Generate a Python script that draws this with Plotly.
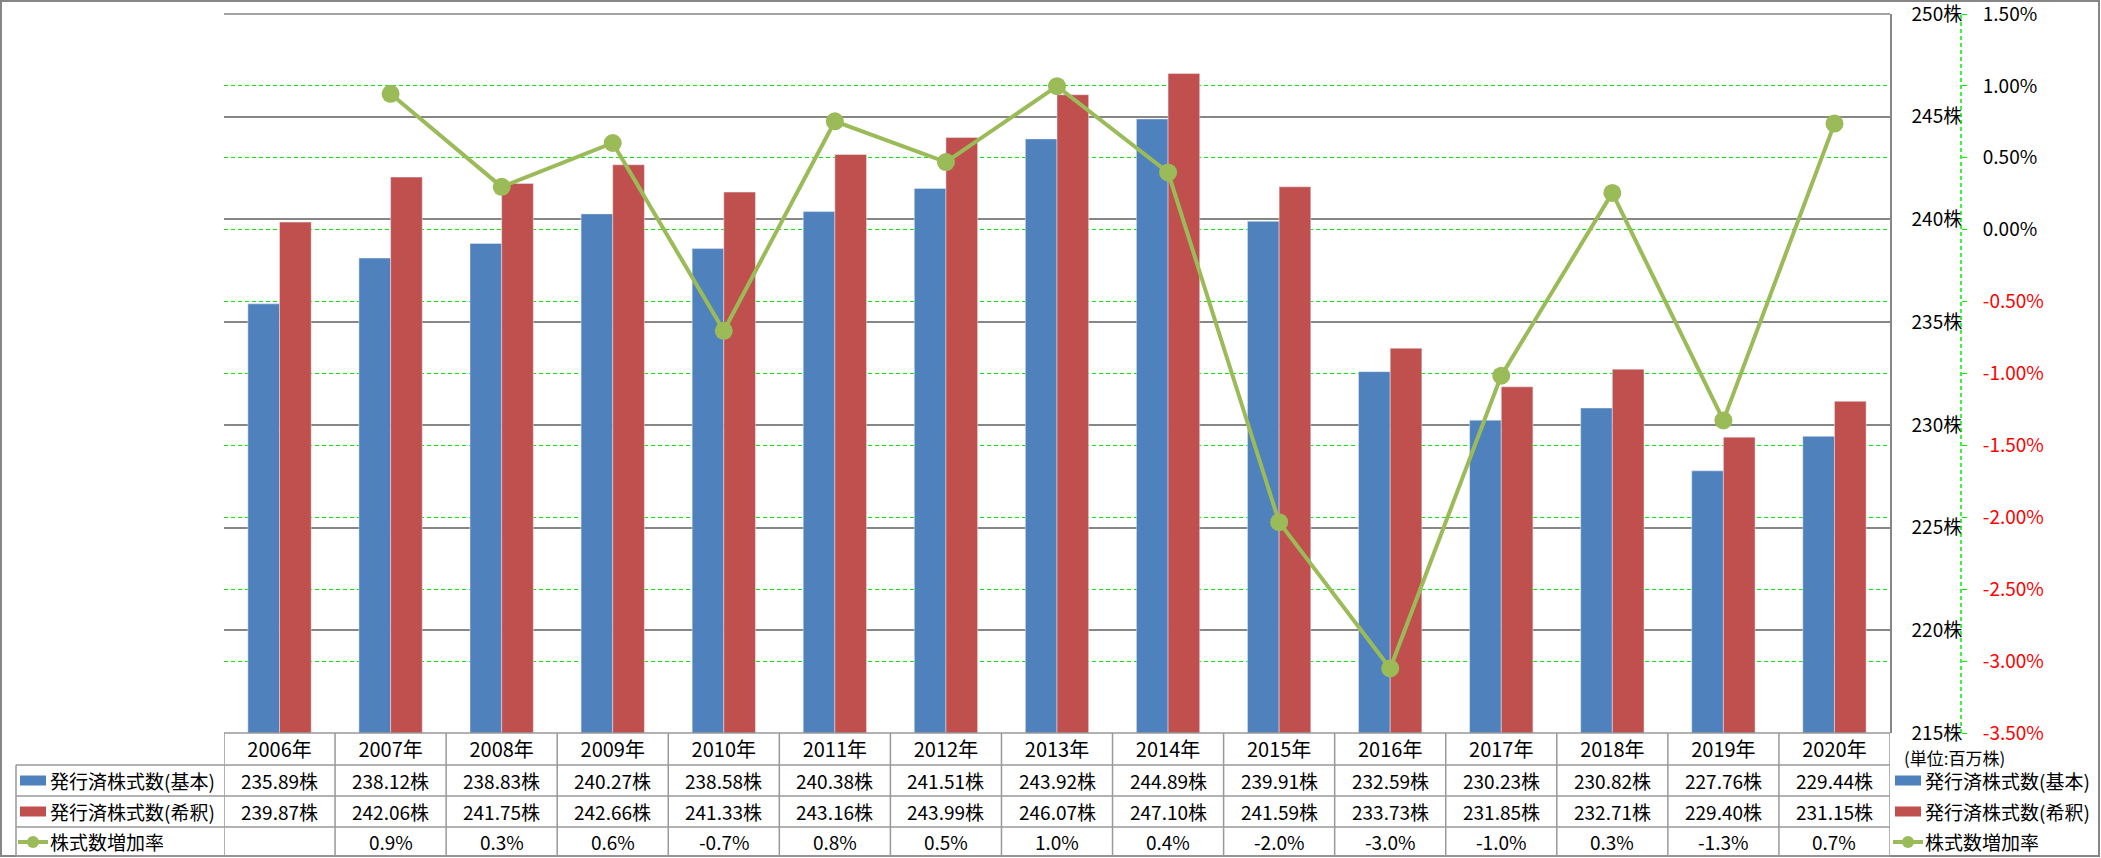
import plotly.graph_objects as go

# --- data ---
years = ["2006年", "2007年", "2008年", "2009年", "2010年", "2011年", "2012年", "2013年",
         "2014年", "2015年", "2016年", "2017年", "2018年", "2019年", "2020年"]
shares_basic = [235.89, 238.12, 238.83, 240.27, 238.58, 240.38, 241.51, 243.92,
                244.89, 239.91, 232.59, 230.23, 230.82, 227.76, 229.44]
shares_diluted = [239.87, 242.06, 241.75, 242.66, 241.33, 243.16, 243.99, 246.07,
                  247.10, 241.59, 233.73, 231.85, 232.71, 229.40, 231.15]
# growth rate (%) as plotted
growth_rate = [None, 0.945, 0.298, 0.603, -0.703, 0.754, 0.470, 0.998,
               0.398, -2.034, -3.051, -1.015, 0.256, -1.326, 0.738]
# growth rate as printed in the data table
growth_label = ["", "0.9%", "0.3%", "0.6%", "-0.7%", "0.8%", "0.5%", "1.0%",
                "0.4%", "-2.0%", "-3.0%", "-1.0%", "0.3%", "-1.3%", "0.7%"]
share_ticks = [215, 220, 225, 230, 235, 240, 245, 250]
pct_ticks = [1.5, 1.0, 0.5, 0.0, -0.5, -1.0, -1.5, -2.0, -2.5, -3.0, -3.5]

names = ["発行済株式数(基本)", "発行済株式数(希釈)", "株式数増加率"]
BLUE, RED, GREEN = "#4F81BD", "#C0504D", "#9BBB59"
GRID = "#868686"
LIME = "#00EE00"
FONT = "Noto Sans CJK JP"

W, H = 2101, 858
L, R, T, B = 224, 140, 14, 125
PW, PH = W - L - R, H - T - B


def px_x(px):
    return (px - L) / PW


def px_y(py):
    return (H - B - py) / PH


fig = go.Figure()
fig.add_trace(go.Bar(x=years, y=shares_basic, name=names[0], marker_color=BLUE))
fig.add_trace(go.Bar(x=years, y=shares_diluted, name=names[1], marker_color=RED))
fig.add_trace(go.Scatter(
    x=years, y=growth_rate, name=names[2], yaxis="y2", mode="lines+markers",
    line=dict(color=GREEN, width=4), marker=dict(color=GREEN, size=18),
    connectgaps=False,
))

pct_text = [
    f"<span style='color:#FF0000'>{v:.2f}%</span>" if v < 0 else f"{v:.2f}%"
    for v in pct_ticks
]

fig.update_layout(
    width=W, height=H,
    margin=dict(l=L, r=R, t=T, b=B, autoexpand=False),
    paper_bgcolor="white", plot_bgcolor="white",
    font=dict(family=FONT, size=19, color="black"),
    barmode="group", bargap=0.43, bargroupgap=0,
    xaxis=dict(domain=[0, 1666 / PW], type="category", range=[-0.5, len(years) - 0.5],
               showgrid=False, showline=False, ticks="", tickfont=dict(size=20),
               ticklabelstandoff=3),
    yaxis=dict(range=[215, 250], tickvals=share_ticks,
               ticktext=[f"{v}株" for v in share_ticks], side="right",
               anchor="x", showline=True, linecolor=GRID, linewidth=1.5,
               gridcolor=GRID, gridwidth=1.5, zeroline=False, ticks="",
               ticklabelstandoff=16, ticklabeloverflow="allow"),
    yaxis2=dict(range=[-3.5, 1.5], overlaying="y", side="right", anchor="free",
                position=1.0, tickvals=pct_ticks, ticktext=pct_text,
                showgrid=True, gridcolor=LIME, griddash="4px,3px",
                gridwidth=1, zeroline=False, showline=False,
                ticks="outside", ticklen=5, tickcolor=LIME,
                ticklabelstandoff=12, ticklabeloverflow="allow"),
    showlegend=False,
)

shapes = []
# top gridline of the primary axis (250)
shapes.append(dict(type="line", xref="x domain", yref="paper", x0=0, x1=1, y0=1, y1=1,
                   line=dict(color=GRID, width=1.5)))
# secondary axis line (dashed green)
shapes.append(dict(type="line", xref="paper", yref="paper", x0=1, x1=1, y0=0, y1=1,
                   line=dict(color=LIME, width=1.5, dash="4px,3px")))
# outer frame
shapes.append(dict(type="rect", xref="paper", yref="paper",
                   x0=px_x(1), x1=px_x(2099), y0=px_y(856), y1=px_y(1),
                   line=dict(color=GRID, width=2), fillcolor="rgba(0,0,0,0)"))

# data table grid
row_edges = [733, 765, 796, 827, 856]
tcol = dict(color="#999999", width=1.5)
for k, ry in enumerate(row_edges):
    x_left = px_x(224) if k == 0 else px_x(16)
    shapes.append(dict(type="line", xref="paper", yref="paper",
                       x0=x_left, x1=1666 / PW, y0=px_y(ry), y1=px_y(ry), line=tcol))
shapes.append(dict(type="line", xref="paper", yref="paper", x0=px_x(16), x1=px_x(16),
                   y0=px_y(765), y1=px_y(856), line=tcol))
for i in range(len(years) + 1):
    shapes.append(dict(type="line", xref="x", yref="paper", x0=i - 0.5, x1=i - 0.5,
                       y0=px_y(733), y1=px_y(856), line=tcol))


def legend_key(r, x0, cy):
    # colour key as Excel draws it: wide box for bars, line + dot for the line series
    if r < 2:
        shapes.append(dict(type="rect", xref="paper", yref="paper",
                           x0=px_x(x0 + 2), x1=px_x(x0 + 28), y0=cy - 5 / PH, y1=cy + 5 / PH,
                           fillcolor=[BLUE, RED][r], line=dict(width=0)))
    else:
        shapes.append(dict(type="line", xref="paper", yref="paper",
                           x0=px_x(x0), x1=px_x(x0 + 30), y0=cy, y1=cy,
                           line=dict(color=GREEN, width=4)))
        shapes.append(dict(type="circle", xref="paper", yref="paper",
                           x0=px_x(x0 + 9), x1=px_x(x0 + 21), y0=cy - 6 / PH, y1=cy + 6 / PH,
                           fillcolor=GREEN, line=dict(width=0)))


annotations = []
row_centers = [780.5, 811.5, 842]
rows = [
    [f"{v:.2f}株" for v in shares_basic],
    [f"{v:.2f}株" for v in shares_diluted],
    growth_label,
]
for r, texts in enumerate(rows):
    cy = px_y(row_centers[r])
    for yr, t in zip(years, texts):
        if t:
            annotations.append(dict(xref="x", yref="paper", x=yr, y=cy,
                                    text=t, showarrow=False, xanchor="center",
                                    yanchor="middle", font=dict(size=19)))
    # left column of the data table and the legend on the right
    for kx in (18, 1893):
        annotations.append(dict(xref="paper", yref="paper", x=px_x(kx + 30), y=cy,
                                text=names[r], showarrow=False, xanchor="left",
                                yanchor="middle", font=dict(size=19)))
        legend_key(r, kx, cy)

annotations.append(dict(xref="paper", yref="paper", x=px_x(1902), y=px_y(757),
                        text="(単位:百万株)", showarrow=False, xanchor="left",
                        yanchor="middle", font=dict(size=17)))

fig.update_layout(shapes=shapes, annotations=annotations)

# the page body has a default 8px margin; drop it so the figure fills the window
fig.write_html("out.html", config={"displayModeBar": False},
               post_script="document.body.style.margin='0';document.body.style.overflow='hidden';")
